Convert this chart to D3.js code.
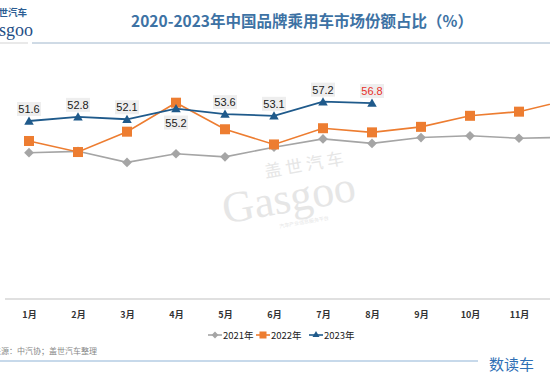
<!DOCTYPE html>
<html>
<head>
<meta charset="utf-8">
<script src="https://cdn.jsdelivr.net/npm/d3@7"></script>
<style>
  body { margin: 0; background: #fff; }
  svg { display: block; font-family: "Liberation Sans", Arial, sans-serif; }
</style>
</head>
<body>
<svg width="550" height="378"></svg>
<script>
const months = ['1月','2月','3月','4月','5月','6月','7月','8月','9月','10月','11月','12月'];
const share2021 = [42.4, 42.8, 39.6, 42.1, 41.2, 44.0, 46.4, 45.1, 46.8, 47.3, 46.6, 46.9];
const share2022 = [45.8, 42.6, 48.5, 56.9, 49.2, 44.8, 49.5, 48.3, 49.9, 53.1, 54.3, 57.7];
const share2023 = [51.6, 52.8, 52.1, 55.2, 53.6, 53.1, 57.2, 56.8];
const seriesNames = ['2021年', '2022年', '2023年'];

const svg = d3.select('svg');
const cjk = '"Noto Sans CJK SC", "Microsoft YaHei", sans-serif';

const xScale = d3.scalePoint().domain(months).range([29, 568]);
const yScale = d3.scaleLinear().domain([0, 60]).range([299, 92]);

// header
svg.append('text')
  .attr('x', 302).attr('y', 27)
  .attr('text-anchor', 'middle')
  .attr('font-family', cjk)
  .attr('font-size', 15.5).attr('font-weight', 'bold')
  .attr('fill', '#3d72a4')
  .text('2020-2023年中国品牌乘用车市场份额占比（%）');
svg.append('line')
  .attr('x1', 32).attr('x2', 550).attr('y1', 43).attr('y2', 43)
  .attr('stroke', '#9fb6cc').attr('stroke-width', 1);
svg.append('line')
  .attr('x1', 0).attr('x2', 28).attr('y1', 43).attr('y2', 43)
  .attr('stroke', '#c8c8c8').attr('stroke-width', 0.8);

// logo (cropped at the left edge)
svg.append('text')
  .attr('x', -11).attr('y', 16)
  .attr('font-family', cjk).attr('font-size', 9.5).attr('font-weight', 'bold')
  .attr('fill', '#2c5d93')
  .text('盖世汽车');
svg.append('text')
  .attr('x', -22).attr('y', 36)
  .attr('font-family', '"Liberation Serif", serif').attr('font-size', 18)
  .attr('fill', '#1f4f86')
  .text('Gasgoo');

// watermark
const wm = svg.append('g')
  .attr('transform', 'rotate(-10, 290, 200)')
  .attr('fill', '#e6e6e6');
wm.append('text')
  .attr('x', 270).attr('y', 174)
  .attr('font-family', cjk).attr('font-size', 17)
  .attr('letter-spacing', 4)
  .text('盖世汽车');
wm.append('text')
  .attr('x', 222).attr('y', 212)
  .attr('font-family', '"Liberation Serif", serif').attr('font-size', 44)
  .text('Gasgoo');
wm.append('text')
  .attr('x', 275).attr('y', 226)
  .attr('font-family', cjk).attr('font-size', 5)
  .text('汽车产业信息服务平台');

// axis
const xAxisG = svg.append('g')
  .attr('transform', 'translate(0,299)')
  .call(d3.axisBottom(xScale).tickSize(0).tickPadding(13));
xAxisG.select('.domain').remove();
xAxisG.append('line')
  .attr('x1', 5).attr('x2', 550)
  .attr('stroke', '#d6d6d6').attr('stroke-width', 1.5);
xAxisG.selectAll('.tick text')
  .attr('font-family', cjk).attr('font-size', 9).attr('font-weight', 'bold')
  .attr('fill', '#333');

// series
const line = d3.line()
  .x((d, i) => xScale(months[i]))
  .y(d => yScale(d));

const g = svg.append('g');

g.append('path').datum(share2021)
  .attr('d', line).attr('fill', 'none')
  .attr('stroke', '#a5a5a5').attr('stroke-width', 1.6);
g.append('path').datum(share2022)
  .attr('d', line).attr('fill', 'none')
  .attr('stroke', '#ed7d31').attr('stroke-width', 1.6);
g.append('path').datum(share2023)
  .attr('d', line).attr('fill', 'none')
  .attr('stroke', '#1f5a8b').attr('stroke-width', 1.8);

g.selectAll('.d21').data(share2021).enter()
  .append('path')
  .attr('class', 'd21')
  .attr('d', d3.symbol().type(d3.symbolDiamond2).size(60))
  .attr('transform', (d, i) => `translate(${xScale(months[i])},${yScale(d)})`)
  .attr('fill', '#a5a5a5');

g.selectAll('.s22').data(share2022).enter()
  .append('rect')
  .attr('class', 's22')
  .attr('x', (d, i) => xScale(months[i]) - 5)
  .attr('y', d => yScale(d) - 5)
  .attr('width', 10).attr('height', 10)
  .attr('fill', '#ed7d31');

g.selectAll('.t23').data(share2023).enter()
  .append('path')
  .attr('class', 't23')
  .attr('d', d3.symbol().type(d3.symbolTriangle2).size(65))
  .attr('transform', (d, i) => `translate(${xScale(months[i])},${yScale(d) + 1})`)
  .attr('fill', '#1f5a8b');

// value labels for 2023
const labels = g.selectAll('.lbl').data(share2023).enter()
  .append('g')
  .attr('class', 'lbl')
  .attr('transform', (d, i) => {
    const dy = i === 3 ? 14 : -12;
    return `translate(${xScale(months[i])},${yScale(d) + dy})`;
  });
labels.append('rect')
  .attr('x', -12).attr('y', -7)
  .attr('width', 24).attr('height', 14)
  .attr('fill', '#eeeeee');
labels.append('text')
  .attr('text-anchor', 'middle')
  .attr('y', 4)
  .attr('font-size', 11)
  .attr('fill', (d, i) => i === 7 ? '#e8302a' : '#1a1a1a')
  .text(d => d.toFixed(1));

// legend
const legend = svg.append('g').attr('transform', 'translate(0,335)');
const legendItems = [
  { name: seriesNames[0], x: 208, color: '#a5a5a5', shape: 'diamond' },
  { name: seriesNames[1], x: 256, color: '#ed7d31', shape: 'square' },
  { name: seriesNames[2], x: 309, color: '#1f5a8b', shape: 'triangle' }
];
legendItems.forEach(it => {
  const lg = legend.append('g').attr('transform', `translate(${it.x},0)`);
  lg.append('line').attr('x1', 0).attr('x2', 14)
    .attr('stroke', it.color).attr('stroke-width', 1.6);
  if (it.shape === 'diamond') {
    lg.append('path').attr('d', d3.symbol().type(d3.symbolDiamond2).size(30))
      .attr('transform', 'translate(7,0)').attr('fill', it.color);
  } else if (it.shape === 'square') {
    lg.append('rect').attr('x', 3.5).attr('y', -3.5).attr('width', 7).attr('height', 7)
      .attr('fill', it.color);
  } else {
    lg.append('path').attr('d', d3.symbol().type(d3.symbolTriangle2).size(35))
      .attr('transform', 'translate(7,0)').attr('fill', it.color);
  }
  lg.append('text').attr('x', 15).attr('y', 3.5)
    .attr('font-family', cjk).attr('font-size', 9.5)
    .attr('fill', '#222')
    .text(it.name);
});

// footer
svg.append('text')
  .attr('x', -7).attr('y', 354)
  .attr('font-family', cjk).attr('font-size', 8)
  .attr('fill', '#888')
  .text('来源：中汽协；盖世汽车整理');
svg.append('line')
  .attr('x1', 0).attr('x2', 478).attr('y1', 361).attr('y2', 361)
  .attr('stroke', '#8fb3d6').attr('stroke-width', 1);
svg.append('text')
  .attr('x', 489).attr('y', 370)
  .attr('font-family', cjk).attr('font-size', 15)
  .attr('fill', '#2f6fb5')
  .text('数读车');
</script>
</body>
</html>
